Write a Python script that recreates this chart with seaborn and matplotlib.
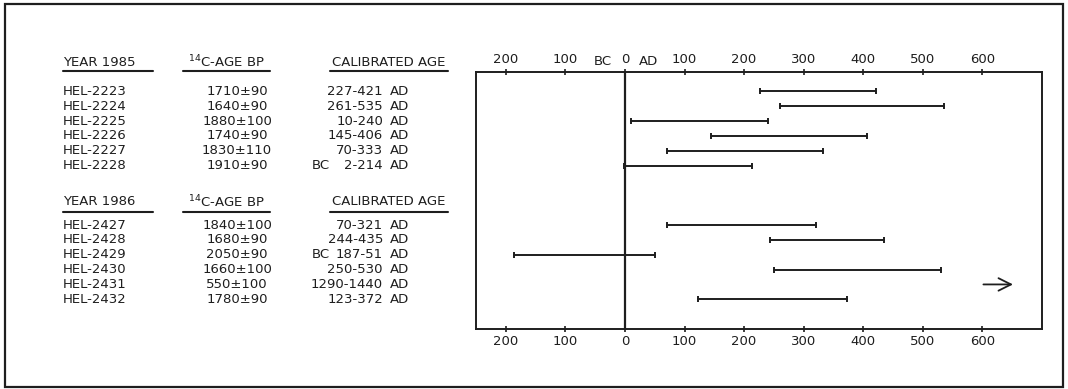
import numpy as np
import pandas as pd
import matplotlib
matplotlib.use("Agg")
import matplotlib.pyplot as plt
import matplotlib.transforms as mtransforms
from matplotlib.lines import Line2D
from matplotlib.patches import Rectangle
from matplotlib.ticker import FuncFormatter
import seaborn as sns

labs_1985 = ["HEL-2223", "HEL-2224", "HEL-2225", "HEL-2226", "HEL-2227", "HEL-2228"]
c14_age_1985 = [1710, 1640, 1880, 1740, 1830, 1910]
c14_err_1985 = [90, 90, 100, 90, 110, 90]
cal_start_1985 = [227, 261, 10, 145, 70, -2]
cal_end_1985 = [421, 535, 240, 406, 333, 214]

labs_1986 = ["HEL-2427", "HEL-2428", "HEL-2429", "HEL-2430", "HEL-2431", "HEL-2432"]
c14_age_1986 = [1840, 1680, 2050, 1660, 550, 1780]
c14_err_1986 = [100, 90, 90, 100, 100, 90]
cal_start_1986 = [70, 244, -187, 250, 1290, 123]
cal_end_1986 = [321, 435, 51, 530, 1440, 372]

group_years = ["YEAR 1985", "YEAR 1986"]
x_ticks = [-200, -100, 0, 100, 200, 300, 400, 500, 600]

# --- layout ---
W, H = 1068, 389
rows_1985 = np.arange(6)
rows_1986 = 9 + np.arange(6)
XMIN, XMAX = -250, 700
INK = "#1e1e1e"

sns.set_style("white")
plt.rcParams["font.family"] = ["DejaVu Sans"]

fig = plt.figure(figsize=(W / 100, H / 100), dpi=100)
ax = fig.add_axes([476 / W, 1 - 329 / H, (1042 - 476) / W, (329 - 72) / H])

seg = pd.DataFrame({
    "lab": labs_1985 + labs_1986,
    "row": np.concatenate([rows_1985, rows_1986]),
    "start": cal_start_1985 + cal_start_1986,
    "end": cal_end_1985 + cal_end_1986,
})
on_scale = seg[seg["end"] <= XMAX]
off_scale = seg[seg["end"] > XMAX]
long = on_scale.melt(id_vars=["lab", "row"], value_vars=["start", "end"], value_name="year")

sns.lineplot(data=long, x="year", y="row", units="lab", estimator=None, sort=False,
             color=INK, lw=1.4, marker="|", markersize=4.5, markeredgewidth=1.4,
             markeredgecolor=INK, legend=False, ax=ax)

# off-scale samples: arrow pointing right
for _, r in off_scale.iterrows():
    ax.annotate("", xy=(656, r["row"]), xytext=(597, r["row"]),
                arrowprops=dict(arrowstyle="->,head_length=0.9,head_width=0.45",
                                lw=1.3, color=INK))

ax.axvline(0, color=INK, lw=1.6)
ax.set_xlim(XMIN, XMAX)
ax.set_ylim(16.0, -1.3)
ax.set_xticks(x_ticks)
ax.xaxis.set_major_formatter(FuncFormatter(lambda v, p: f"{abs(int(v))}"))
ax.set_yticks([])
ax.set_xlabel("")
ax.set_ylabel("")
ax.tick_params(axis="x", direction="inout", length=5, width=1.2, color=INK,
               top=True, labeltop=True, bottom=True, labelbottom=True,
               labelsize=9.5, labelcolor=INK, pad=2)
for s in ax.spines.values():
    s.set_visible(True)
    s.set_color(INK)
    s.set_linewidth(1.4)

ax.text(-37, -2.0, "BC", ha="center", va="center", fontsize=9.5, color=INK, clip_on=False)
ax.text(40, -2.0, "AD", ha="center", va="center", fontsize=9.5, color=INK, clip_on=False)

# --- table on the left, rows aligned to chart rows ---
tr = mtransforms.blended_transform_factory(fig.transFigure, ax.transData)
fs = 9.5


def put(px, y, s, ha="left"):
    fig.text(px / W, y, s, transform=tr, ha=ha, va="center", fontsize=fs, color=INK)


def uline(px0, px1, y):
    fig.add_artist(Line2D([px0 / W, px1 / W], [y, y], transform=tr, color=INK, lw=1.5))


groups = [
    (group_years[0], labs_1985, c14_age_1985, c14_err_1985, cal_start_1985, cal_end_1985, rows_1985, -1.95, -1.35),
    (group_years[1], labs_1986, c14_age_1986, c14_err_1986, cal_start_1986, cal_end_1986, rows_1986, 7.45, 8.1),
]
for title, labs, ages, errs, cs, ce, rows, hy, uy in groups:
    put(63, hy, title)
    put(226, hy, r"$^{14}$C-AGE BP", ha="center")
    put(389, hy, "CALIBRATED AGE", ha="center")
    uline(63, 153, uy)
    uline(183, 270, uy)
    uline(330, 448, uy)
    for lab, a, e, s0, s1, y in zip(labs, ages, errs, cs, ce, rows):
        put(63, y, lab)
        put(237, y, f"{a}±{e}", ha="center")
        put(383, y, f"{abs(s0)}-{s1}", ha="right")
        put(390, y, "AD")
        if s0 < 0:
            put(312, y, "BC")

# outer frame
fig.add_artist(Rectangle((5 / W, 2 / H), (1063 - 5) / W, (385 - 2) / H,
                         transform=fig.transFigure, fill=False, lw=1.6, color=INK))

fig.savefig("out.png", dpi=100)
